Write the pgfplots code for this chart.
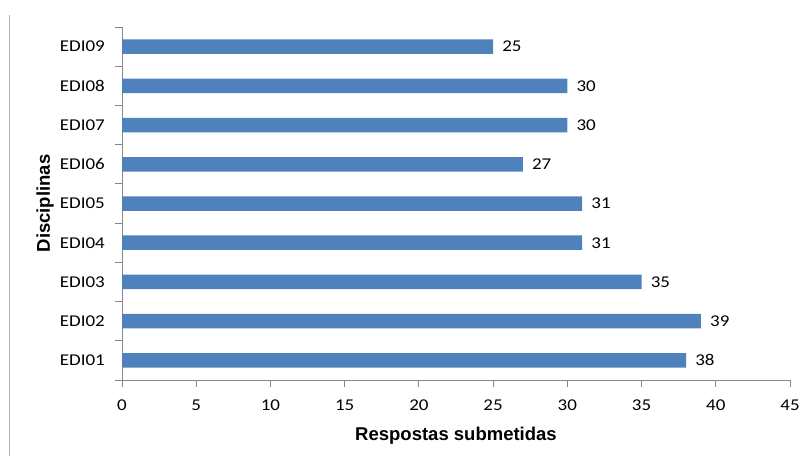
\documentclass[border=0pt]{standalone}
\usepackage{fontspec}
\setmainfont{Carlito}[FakeStretch=1.15]
\newfontfamily\arialb{Liberation Sans}[BoldFont={* Bold}]
\usepackage{pgfplots}
\pgfplotsset{compat=1.18}
\definecolor{barblue}{HTML}{4F81BD}
\definecolor{axgray}{HTML}{868686}
\pgfplotstableread{
y v
1 38
2 39
3 35
4 31
5 31
6 27
7 30
8 30
9 25
}\datatable
\begin{document}
\begin{tikzpicture}[x=1pt,y=1pt]
\path[use as bounding box] (0,0) rectangle (806,456);
\draw[color=gray!60, line width=1pt] (9,0) -- (9,441);
\begin{axis}[
  at={(122pt,76pt)}, anchor=south west,
  scale only axis, width=668pt, height=353pt,
  xmin=0, xmax=45, ymin=0.5, ymax=9.5,
  enlargelimits=false,
  xbar, bar width=14.5pt,
  axis x line*=bottom, axis y line*=left,
  axis line style={axgray, line width=0.9pt},
  tick style={axgray, line width=0.9pt},
  tick align=outside,
  major tick length=0pt, minor tick length=7pt,
  xtick={0,5,...,45},
  minor xtick={0,5,...,45},
  ytick={1,...,9},
  yticklabels={EDI01,EDI02,EDI03,EDI04,EDI05,EDI06,EDI07,EDI08,EDI09},
  minor ytick={0.5,1.5,...,9.5},
  /pgf/number format/assume math mode=true,
  tick label style={font=\fontsize{16.5}{18}\selectfont, text=black, inner sep=0pt},
  y tick label style={xshift=-17pt},
  x tick label style={yshift=-20pt},
  xlabel={\arialb\bfseries Respostas submetidas},
  ylabel={\arialb\bfseries Disciplinas},
  label style={font=\fontsize{18.5}{20}\selectfont},
  xlabel style={at={(axis description cs:0.5,0)}, anchor=base, yshift=-60pt},
  ylabel style={at={(axis description cs:-0.1153,0.5)}, anchor=center},
  nodes near coords,
  every node near coord/.append style={font=\fontsize{16.5}{18}\selectfont, text=black, inner sep=0pt, xshift=9pt, anchor=west},
]
\addplot[fill=barblue, draw=none] table[x=v, y=y] {\datatable};
\end{axis}
\end{tikzpicture}
\end{document}
